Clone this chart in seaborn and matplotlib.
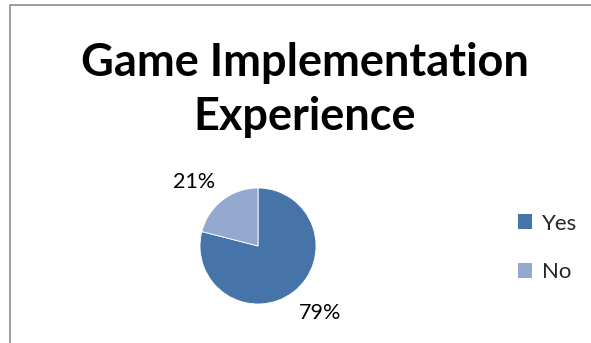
import matplotlib
matplotlib.use("Agg")
import numpy as np
import matplotlib.pyplot as plt
import seaborn as sns
from matplotlib.patches import Rectangle, Patch

categories = ["Yes", "No"]
values = [79, 21]
colors = ["#4674A8", "#94A9D0"]
title = "Game Implementation\nExperience"

sns.set_style("white")
plt.rcParams['font.family'] = ['Lato', 'DejaVu Sans']

fig = plt.figure(figsize=(5.91, 3.43), dpi=100)
fig.patch.set_facecolor("white")

# outer chart border (extends past right/bottom edge like reference)
fig.add_artist(Rectangle((10/591, -0.05), 1.0, (343-5)/343 + 0.05, transform=fig.transFigure,
                         fill=False, edgecolor="#8c8c8c", linewidth=1.2))

fig.text(305/591, 1 - 90/343, title, ha="center", va="center", fontsize=32.5,
         fontweight="bold", color="black", linespacing=1.37)

ax = fig.add_axes([0.3384, 0.1137, 0.1963, 0.3382])
palette = sns.color_palette(colors)
wedges, texts, autotexts = ax.pie(values, colors=palette, startangle=90, counterclock=False,
                                  autopct=lambda p: f"{p:.0f}%", pctdistance=1.56,
                                  wedgeprops=dict(linewidth=0.6, edgecolor="white"),
                                  textprops=dict(fontsize=15.5, color="black"))
# nudge outside-end labels like the reference layout
for t, ang in zip(autotexts, [-47, 135]):
    a = np.deg2rad(ang)
    t.set_position((1.57 * np.cos(a), 1.57 * np.sin(a)))
ax.set_xlim(-1, 1)
ax.set_ylim(-1, 1)
ax.set_aspect("equal")

handles = [Patch(facecolor=c, edgecolor="none") for c in palette]
fig.legend(handles, categories, loc="center left", bbox_to_anchor=(498/591, 1 - 248/343),
           frameon=False, fontsize=16, handlelength=0.65, handleheight=0.65,
           handletextpad=0.45, labelspacing=1.3)

fig.savefig("out.png", dpi=100)
